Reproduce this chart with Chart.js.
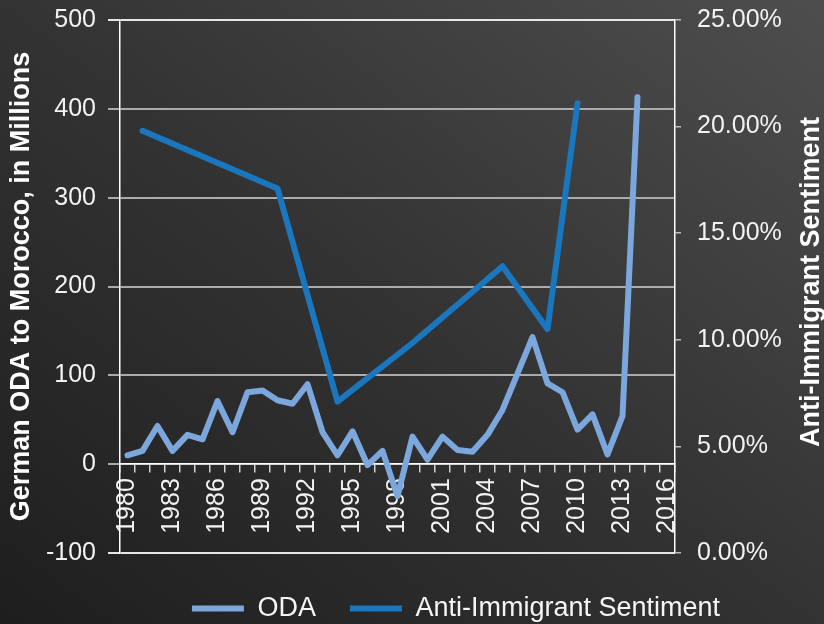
<!DOCTYPE html>
<html>
<head>
<meta charset="utf-8">
<script src="https://cdn.jsdelivr.net/npm/chart.js@4/dist/chart.umd.min.js"></script>
<style>
  body { margin: 0; }
  #wrap {
    width: 824px;
    height: 624px;
    background: linear-gradient(to top right, #1e1e1e 0%, #333333 50%, #4e4e4e 100%);
  }
</style>
</head>
<body>
<div id="wrap"><canvas id="myLineChart" width="824" height="624"></canvas></div>
<script>
const anos = ["1980", "1981", "1982", "1983", "1984", "1985", "1986", "1987", "1988", "1989",
  "1990", "1991", "1992", "1993", "1994", "1995", "1996", "1997", "1998", "1999",
  "2000", "2001", "2002", "2003", "2004", "2005", "2006", "2007", "2008", "2009",
  "2010", "2011", "2012", "2013", "2014", "2015", "2016"];

// German ODA to Morocco, millions
const oda = [10, 15, 43, 15, 33, 28, 71, 36, 81, 83,
  72, 68, 90, 36, 10, 37, -1, 15, -36, 31,
  5, 31, 16, 14, 33, 61, 102, 143, 91, 81,
  39, 56, 11, 54, 413, null, null];

// Anti-immigrant sentiment, percent (only survey years)
const sentimento = [null, 19.8, null, null, null, null, null, null, null, null,
  17.1, null, null, null, 7.1, null, null, null, null, 9.85,
  null, null, null, null, null, 13.45, null, null, 10.5, null,
  21.1, null, null, null, null, null, null];

const odaTicks = [-100, 0, 100, 200, 300, 400, 500];
const pctTicks = [0, 5, 10, 15, 20, 25];

const fonte = "'Liberation Sans', Arial, sans-serif";

// titulo do eixo direito, lido de baixo para cima
const tituloDireito = {
  id: "tituloDireito",
  afterLayout(chart) {
    // legenda um pouco mais abaixo e deslocada para a direita
    chart.legend.top += 8;
    chart.legend.bottom += 8;
    chart.legend.left += 44;
    chart.legend.right += 44;
  },
  afterDraw(chart) {
    const ctx = chart.ctx;
    ctx.save();
    ctx.translate(812, 282);
    ctx.rotate(-Math.PI / 2);
    ctx.font = "bold 27px " + fonte;
    ctx.fillStyle = "#ffffff";
    ctx.textAlign = "center";
    ctx.textBaseline = "middle";
    ctx.fillText("Anti-Immigrant Sentiment", 0, 0);
    ctx.restore();
  }
};

const data = {
  labels: anos,
  datasets: [
    {
      label: "ODA",
      data: oda,
      borderColor: "#7ba7dc",
      backgroundColor: "#7ba7dc",
      borderWidth: 6,
      borderCapStyle: "round",
      borderJoinStyle: "round",
      pointRadius: 0,
      tension: 0,
      yAxisID: "y",
    },
    {
      label: "Anti-Immigrant Sentiment",
      data: sentimento,
      borderColor: "#1a76bd",
      backgroundColor: "#1a76bd",
      borderWidth: 6,
      borderCapStyle: "round",
      borderJoinStyle: "round",
      pointRadius: 0,
      tension: 0,
      spanGaps: true,
      yAxisID: "y1",
    },
  ],
};

const config = {
  type: "line",
  data: data,
  plugins: [tituloDireito],
  options: {
    responsive: false,
    animation: false,
    layout: { padding: { top: 20, bottom: 0, left: 0, right: 0 } },
    plugins: {
      tooltip: { enabled: false },
      legend: {
        position: "bottom",
        labels: {
          usePointStyle: true,
          pointStyle: "line",
          pointStyleWidth: 52,
          padding: 34,
          color: "#f5f5f5",
          font: { family: fonte, size: 27 },
        },
      },
    },
    scales: {
      x: {
        position: { y: 0 },
        offset: true,
        z: 1,
        grid: {
          offset: true,
          drawOnChartArea: false,
          tickLength: 8,
          color: "#d0d0d0",
          lineWidth: 1.5,
        },
        border: { display: true, color: "#ffffff", width: 1.5 },
        ticks: {
          autoSkip: false,
          maxRotation: 90,
          minRotation: 90,
          padding: 6,
          color: "#f2f2f2",
          font: { family: fonte, size: 25 },
          callback: function(val, index) {
            return index % 3 === 0 ? anos[index] : "";
          },
        },
      },
      y: {
        position: "left",
        min: odaTicks[0],
        max: odaTicks[odaTicks.length - 1],
        afterBuildTicks: function(scale) {
          scale.ticks = odaTicks.map(v => ({ value: v }));
        },
        afterFit: function(scale) {
          scale.width = 120;
          scale.paddingTop = 0;
          scale.paddingBottom = 0;
        },
        grid: {
          color: function(c) {
            const v = c.tick && c.tick.value;
            return (v === 500 || v === -100) ? "#e6e6e6" : "#ababab";
          },
          lineWidth: 2,
          tickLength: 12,
        },
        border: { display: true, color: "#ffffff", width: 1.5 },
        ticks: {
          padding: 12,
          color: "#f2f2f2",
          font: { family: fonte, size: 25 },
        },
        title: {
          display: true,
          text: "German ODA to Morocco, in Millions",
          color: "#ffffff",
          padding: { top: 5, bottom: 0 },
          font: { family: fonte, size: 27, weight: "bold" },
        },
      },
      y1: {
        position: "right",
        min: pctTicks[0],
        max: pctTicks[pctTicks.length - 1],
        afterBuildTicks: function(scale) {
          scale.ticks = pctTicks.map(v => ({ value: v }));
        },
        afterFit: function(scale) {
          scale.width = 149;
          scale.paddingTop = 0;
          scale.paddingBottom = 0;
        },
        grid: {
          drawOnChartArea: false,
          tickLength: 6,
          color: "#bdbdbd",
          lineWidth: 1.5,
        },
        border: { display: true, color: "#ffffff", width: 1.5 },
        ticks: {
          padding: 16,
          color: "#f2f2f2",
          font: { family: fonte, size: 25 },
          callback: function(v) {
            return v.toFixed(2) + "%";
          },
        },
      },
    },
  },
};

new Chart(document.getElementById("myLineChart"), config);
</script>
</body>
</html>
